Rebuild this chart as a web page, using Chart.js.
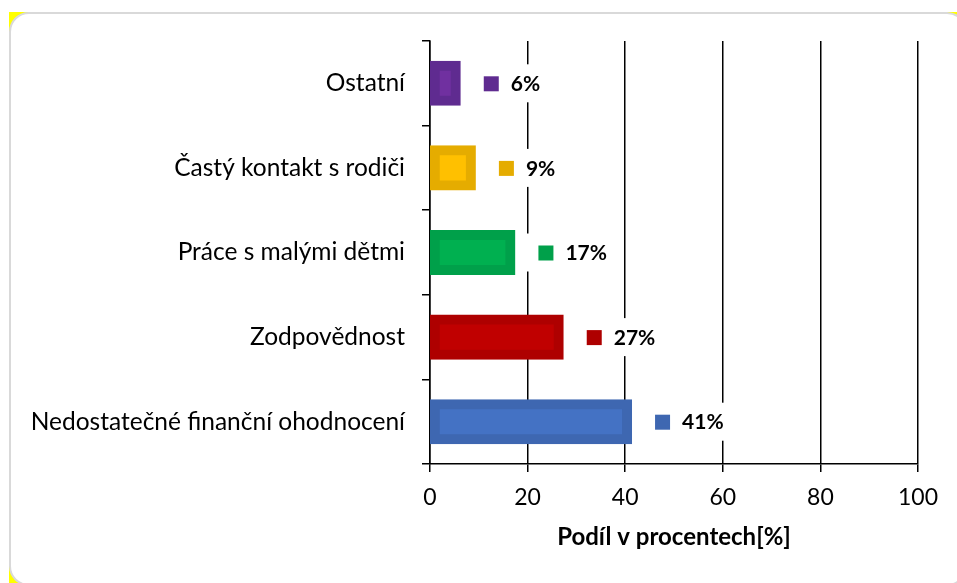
<!DOCTYPE html>
<html>
<head>
<meta charset="utf-8">
<script src="https://cdn.jsdelivr.net/npm/chart.js@4"></script>
<style>
    html, body { margin: 0; padding: 0; background: #fff; }
    body { width: 957px; height: 583px; position: relative; overflow: hidden; }
    .frame-back { position: absolute; left: 9px; top: 12px; width: 960px; height: 580px; background: #ffff00; }
    .frame { position: absolute; left: 9px; top: 12px; width: 954px; height: 570px; background: #fff;
             border: 2px solid #d9d9d9; border-radius: 20px; }
    #wrap { position: absolute; left: 0; top: 0; width: 957px; height: 583px; }
</style>
</head>
<body>
<div class="frame-back"></div>
<div class="frame"></div>
<div id="wrap"><canvas id="chart" width="957" height="583"></canvas></div>
<script>
// data
const categories = ['Ostatní', 'Častý kontakt s rodiči', 'Práce s malými dětmi', 'Zodpovědnost', 'Nedostatečné finanční ohodnocení'];
const shares = [6.1, 9.2, 17.3, 27.2, 41.2];
const shareLabels = ['6%', '9%', '17%', '27%', '41%'];
const xTicks = [0, 20, 40, 60, 80, 100];

const outerColors = ['#5f2b90', '#e5ac00', '#00a04a', '#ae0000', '#3e67b1'];
const innerColors = ['#7030a0', '#ffc000', '#00b050', '#c00000', '#4472c4'];

const fontFamily = 'Lato, "Open Sans", sans-serif';

// popisky u sloupců: čtvereček + tučné procento na bílém podkladu
const barLabels = {
    id: 'barLabels',
    afterDatasetsDraw(chart) {
        const ctx = chart.ctx;
        const meta = chart.getDatasetMeta(0);
        ctx.save();
        ctx.font = 'bold 21px ' + fontFamily;
        ctx.textBaseline = 'middle';
        meta.data.forEach((bar, i) => {
            const x = bar.x;
            const y = bar.y;
            const text = shareLabels[i];
            const tw = ctx.measureText(text).width;
            ctx.fillStyle = '#ffffff';
            ctx.fillRect(x + 12, y - 19, 49 + tw + 6 - 12, 38);
            ctx.fillStyle = outerColors[i];
            ctx.fillRect(x + 24, y - 7, 15, 15);
            ctx.fillStyle = '#000000';
            ctx.textAlign = 'left';
            ctx.fillText(text, x + 51, y + 1);
        });
        ctx.restore();
    }
};

new Chart(document.getElementById('chart'), {
    type: 'bar',
    data: {
        labels: categories,
        datasets: [{
            data: shares,
            backgroundColor: innerColors,
            borderColor: outerColors,
            borderWidth: 10,
            borderSkipped: false,
            inflateAmount: 1,
            categoryPercentage: 1,
            barPercentage: 0.51
        }]
    },
    options: {
        indexAxis: 'y',
        responsive: false,
        animation: false,
        layout: { padding: { left: 0, top: 41, right: 39, bottom: 0 } },
        plugins: {
            legend: { display: false },
            tooltip: { enabled: false }
        },
        scales: {
            x: {
                min: 0,
                max: 100,
                afterBuildTicks(scale) {
                    scale.ticks = xTicks.map(v => ({ value: v }));
                },
                afterFit(scale) { scale.height = 583 - 464; },
                grid: { color: '#000', lineWidth: 1.5, tickLength: 8, drawTicks: true },
                border: { display: true, color: '#000', width: 1.5 },
                ticks: { color: '#000', padding: 12, font: { family: fontFamily, size: 23 } },
                title: {
                    display: true,
                    text: 'Podíl v procentech[%]',
                    color: '#000',
                    font: { family: fontFamily, size: 24, weight: 'bold' },
                    padding: { top: 0, bottom: 31 }
                }
            },
            y: {
                afterFit(scale) { scale.width = 430; },
                grid: { drawOnChartArea: false, drawTicks: true, tickLength: 8, color: '#000', lineWidth: 1.5 },
                border: { display: true, color: '#000', width: 1.5 },
                ticks: { color: '#000', padding: 17, font: { family: fontFamily, size: 24.5 } }
            }
        }
    },
    plugins: [barLabels]
});
</script>
</body>
</html>
